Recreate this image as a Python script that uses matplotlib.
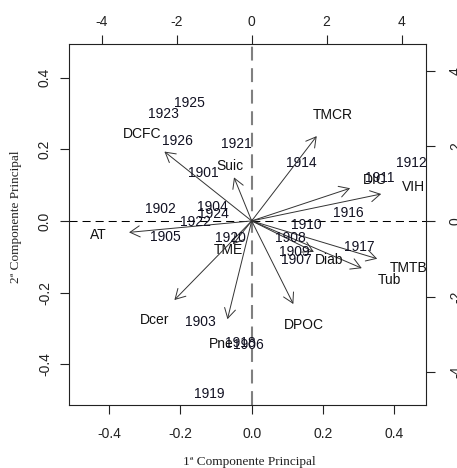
import matplotlib
matplotlib.use("Agg")
import matplotlib.pyplot as plt

plt.rcParams['font.family'] = ['Liberation Sans', 'DejaVu Sans']
plt.rcParams['lines.scale_dashes'] = False

# scores (top / right axes)
years = ['1901', '1902', '1903', '1904', '1905', '1906', '1907', '1908', '1909',
         '1910', '1911', '1912', '1914', '1916', '1917', '1918', '1919', '1920',
         '1921', '1922', '1923', '1924', '1925', '1926']
pc1_scores = [-1.29, -2.43, -1.38, -1.05, -2.31, -0.10, 1.19, 1.02, 1.15,
              1.47, 3.42, 4.27, 1.32, 2.58, 2.87, -0.31, -1.13, -0.56,
              -0.40, -1.49, -2.36, -1.02, -1.65, -1.98]
pc2_scores = [1.28, 0.32, -2.66, 0.38, -0.40, -3.29, -1.01, -0.44, -0.81,
              -0.09, 1.15, 1.56, 1.56, 0.22, -0.67, -3.22, -4.58, -0.45,
              2.05, -0.01, 2.84, 0.20, 3.15, 2.14]

# loadings (bottom / left axes)
variables = ['DCFC', 'Suic', 'AT', 'TME', 'TMCR', 'DIC', 'VIH', 'TMTB', 'Tub',
             'Diab', 'Dcer', 'Pne', 'DPOC']
pc1_load = [-0.306, -0.062, -0.430, -0.066, 0.228, 0.345, 0.454, 0.440, 0.386,
            0.218, -0.271, -0.085, 0.146]
pc2_load = [0.242, 0.152, -0.040, -0.082, 0.296, 0.114, 0.094, -0.132, -0.165,
            -0.108, -0.276, -0.343, -0.290]

fig = plt.figure(figsize=(4.57, 4.68), dpi=100)
pos = [69 / 457, 63 / 468, 357 / 457, 361 / 468]
ax = fig.add_axes(pos)
ax.set_xlim(-0.5125, 0.489)
ax.set_ylim(-0.514, 0.494)

# dashed reference lines
ax.axhline(0, color='black', lw=0.75, dashes=(5.8, 3.6), zorder=1)
ax.axvline(0, color='#808080', lw=1.5, dashes=(10, 5.5), zorder=1)

for name, x, y in zip(variables, pc1_load, pc2_load):
    ax.annotate('', xy=(0.8 * x, 0.8 * y), xytext=(0, 0),
                arrowprops=dict(arrowstyle='->,head_length=0.7,head_width=0.4',
                                lw=0.7, color='#333333', shrinkA=0, shrinkB=0,
                                mutation_scale=10))
    ax.text(x, y, name, ha='center', va='center', fontsize=10, color='#111111')

ax.set_xticks([-0.4, -0.2, 0.0, 0.2, 0.4])
ax.set_yticks([-0.4, -0.2, 0.0, 0.2, 0.4])
ax.set_xticklabels(['-0.4', '-0.2', '0.0', '0.2', '0.4'])
ax.set_yticklabels(['-0.4', '-0.2', '0.0', '0.2', '0.4'], rotation=90, va='center')
ax.tick_params(axis='x', length=6.5, width=0.8, pad=9.5, labelsize=10, colors='#222222')
ax.tick_params(axis='y', length=6.5, width=0.8, pad=5.8, labelsize=10, colors='#222222')
for s in ax.spines.values():
    s.set_linewidth(0.8)
    s.set_color('#222222')

# second coordinate system for the scores
ax2 = fig.add_axes(pos, frameon=False)
ax2.set_xlim(-4.87, 4.648)
ax2.set_ylim(-4.87, 4.71)
ax2.xaxis.tick_top()
ax2.yaxis.tick_right()
ax2.set_xticks([-4, -2, 0, 2, 4])
ax2.set_yticks([-4, -2, 0, 2, 4])
ax2.set_xticklabels(['-4', '-2', '0', '2', '4'])
ax2.set_yticklabels(['-4', '-2', '0', '2', '4'], rotation=90, va='center')
ax2.tick_params(axis='x', length=6.5, width=0.8, pad=4.5, labelsize=10, colors='#222222')
ax2.tick_params(axis='y', length=6.5, width=0.8, pad=10, labelsize=10, colors='#222222')
ax2.patch.set_visible(False)

for name, x, y in zip(years, pc1_scores, pc2_scores):
    ax2.text(x, y, name, ha='center', va='center', fontsize=10,
             color='#111122', clip_on=True)

fig.text(249 / 457, 1 - 462 / 468, '1ª Componente Principal', ha='center', va='center',
         family=['Liberation Serif', 'DejaVu Serif'], fontsize=9.5, color='#222222')
fig.text(16 / 457, 1 - 217 / 468, '2ª Componente Principal', ha='center', va='center',
         rotation=90, family=['Liberation Serif', 'DejaVu Serif'], fontsize=9.5,
         color='#222222')

fig.savefig('out.png', dpi=100, facecolor='white')
